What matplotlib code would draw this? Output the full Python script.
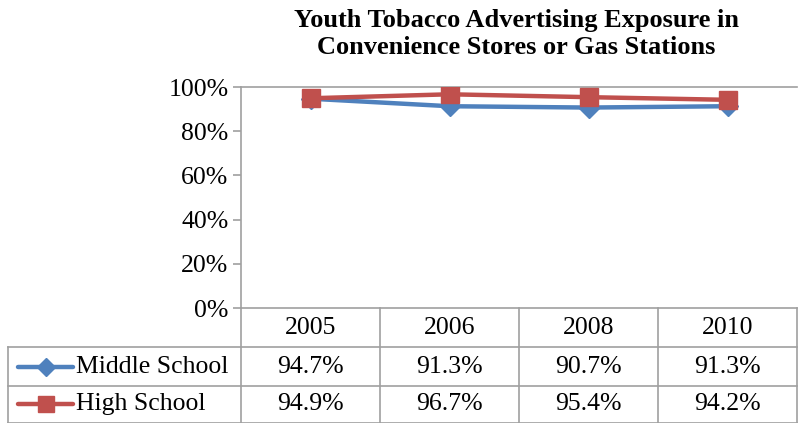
import matplotlib
matplotlib.use("Agg")
import matplotlib.pyplot as plt
from matplotlib.transforms import blended_transform_factory
from matplotlib.lines import Line2D

years = ["2005", "2006", "2008", "2010"]
middle = [94.7, 91.3, 90.7, 91.3]
high = [94.9, 96.7, 95.4, 94.2]
series_names = ["Middle School", "High School"]
yticks = [0, 20, 40, 60, 80, 100]

W, H = 802, 423
plt.rcParams['font.family'] = ['Liberation Serif', 'DejaVu Serif']
FS = 18.5

fig = plt.figure(figsize=(W / 100, H / 100), dpi=100)
fig.patch.set_facecolor('white')

# plot area in pixels
left, right, top, bottom = 241, 797, 87, 308
ax = fig.add_axes([left / W, 1 - bottom / H, (right - left) / W, (bottom - top) / H])

blue = '#4F81BD'
red = '#C0504D'
grid_c = '#A0A0A0'

x = list(range(len(years)))
ax.plot(x, middle, color=blue, lw=3.2, marker='D', markersize=10, solid_capstyle='round', zorder=3)
ax.plot(x, high, color=red, lw=3.2, marker='s', markersize=13, zorder=4)

ax.set_xlim(-0.5, len(years) - 0.5)
ax.set_ylim(0, 100)
ax.set_yticks(yticks)
ax.set_yticklabels([f"{v}%" for v in yticks], fontsize=FS)
ax.set_xticks([])
for s in ['top', 'right', 'bottom']:
    ax.spines[s].set_visible(False)
ax.spines['left'].set_color(grid_c)
ax.spines['left'].set_linewidth(1.2)
ax.tick_params(axis='y', length=6, width=1.2, color=grid_c, pad=3)
ax.axhline(100, color=grid_c, lw=1.2, clip_on=False)

fig.text(0.644, 1 - 20 / H, "Youth Tobacco Advertising Exposure in", ha='center', va='center',
         fontsize=19, fontweight='bold')
fig.text(0.644, 1 - 48 / H, "Convenience Stores or Gas Stations", ha='center', va='center',
         fontsize=19, fontweight='bold')

# data table
fy = lambda px: 1 - px / H
fx = lambda px: px / W
rows = [308, 347, 386, 422.5]
tr = blended_transform_factory(ax.transData, fig.transFigure)
fig.add_artist(Line2D([fx(241), fx(797)], [fy(308), fy(308)], transform=fig.transFigure, color=grid_c, lw=1.2))
for r in rows[1:]:
    fig.add_artist(Line2D([fx(8), fx(797)], [fy(r), fy(r)], transform=fig.transFigure, color=grid_c, lw=1.2))
fig.add_artist(Line2D([fx(8), fx(8)], [fy(347), fy(422.5)], transform=fig.transFigure, color=grid_c, lw=1.2))
for i in range(len(years) + 1):
    xi = i - 0.5
    fig.add_artist(Line2D([xi, xi], [fy(308), fy(422.5)], transform=tr, color=grid_c, lw=1.2))

for i, yr in enumerate(years):
    fig.text(i, fy(328), yr, transform=tr, ha='center', va='center', fontsize=FS)
for r, (vals, name, col, mk, ms) in enumerate(zip([middle, high], series_names, [blue, red], ['D', 's'], [9, 12])):
    yc = fy((rows[r + 1] + rows[r + 2]) / 2)
    for i, v in enumerate(vals):
        fig.text(i, yc, f"{v:.1f}%", transform=tr, ha='center', va='center', fontsize=FS)
    fig.add_artist(Line2D([fx(18), fx(73)], [yc, yc], transform=fig.transFigure, color=col, lw=3.2,
                          solid_capstyle='round'))
    fig.add_artist(Line2D([fx(46)], [yc], transform=fig.transFigure, color=col, marker=mk, markersize=ms, lw=0))
    fig.text(fx(76), yc, name, ha='left', va='center', fontsize=FS)

fig.savefig('out.png', dpi=100, facecolor='white')
